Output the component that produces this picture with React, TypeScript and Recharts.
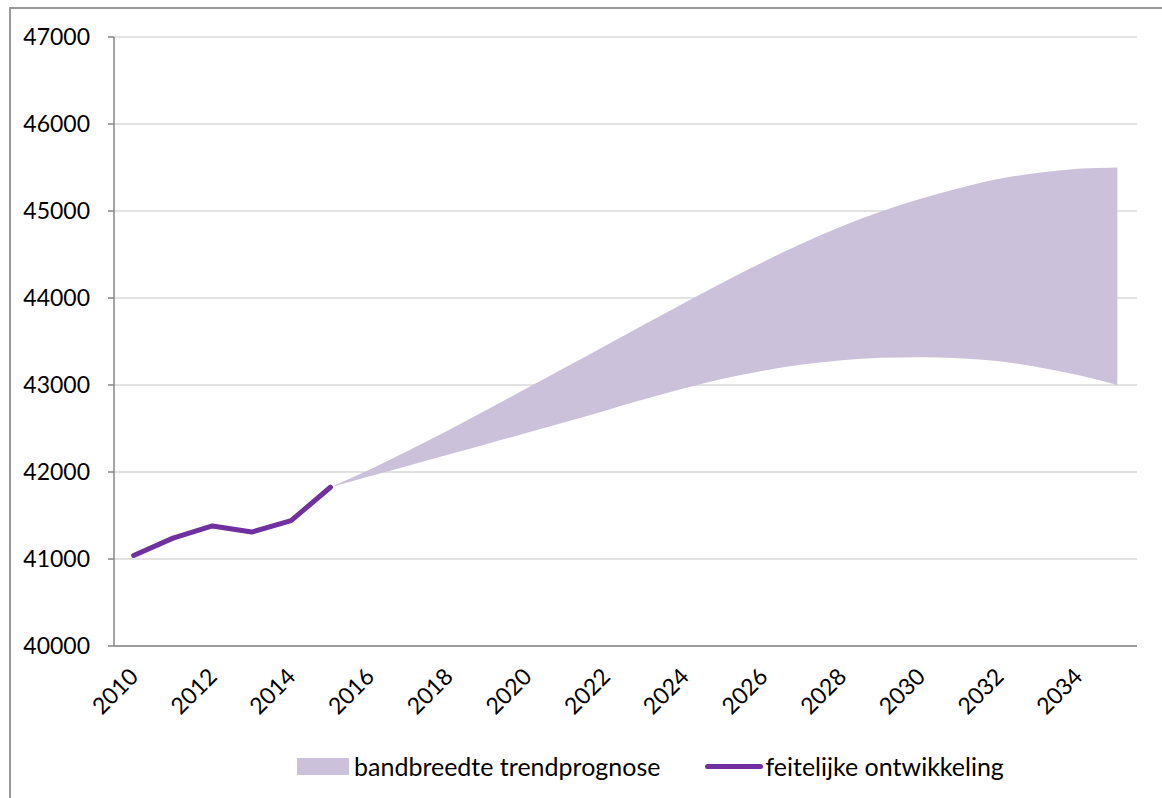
import React from 'react';
import { ComposedChart, Area, Line, XAxis, YAxis, CartesianGrid, Legend } from 'recharts';

const YEARS = [
  2010, 2011, 2012, 2013, 2014, 2015, 2016, 2017, 2018, 2019, 2020, 2021, 2022,
  2023, 2024, 2025, 2026, 2027, 2028, 2029, 2030, 2031, 2032, 2033, 2034, 2035,
];

// feitelijke ontwikkeling, 2010-2015
const ACTUAL = [41040, 41240, 41380, 41310, 41440, 41825];

// bandbreedte trendprognose, 2015-2035
const BAND_LOW = [
  41825, 41950, 42075, 42200, 42325, 42450, 42578, 42708, 42838, 42962, 43075,
  43165, 43235, 43285, 43312, 43320, 43308, 43272, 43205, 43115, 43000,
];
const BAND_HIGH = [
  41825, 42030, 42250, 42480, 42720, 42965, 43210, 43455, 43700, 43945, 44185,
  44415, 44630, 44825, 44995, 45140, 45265, 45370, 45440, 45485, 45500,
];
const BAND_START = 2015;

const Y_TICKS = [40000, 41000, 42000, 43000, 44000, 45000, 46000, 47000];
const X_LABEL_TICKS = [2010, 2012, 2014, 2016, 2018, 2020, 2022, 2024, 2026, 2028, 2030, 2032, 2034];
// category boundaries, Excel-style tick marks between the years
const X_BOUNDARY_TICKS = [...YEARS.map(y => y - 0.5), YEARS[YEARS.length - 1] + 0.5];

const FONT = 'Lato, "Open Sans", sans-serif';
const BAND_COLOR = '#CCC1DA';
const LINE_COLOR = '#7030A0';
const AXIS_COLOR = '#868686';

const data = YEARS.map((year, i) => {
  const b = year - BAND_START;
  return {
    year,
    actual: i < ACTUAL.length ? ACTUAL[i] : null,
    band: b >= 0 && b < BAND_LOW.length ? [BAND_LOW[b], BAND_HIGH[b]] : null,
  };
});

function YearTick({ x, y, payload }: any) {
  const ax = x + 6;
  const ay = y + 31;
  return (
    <text x={ax} y={ay} transform={`rotate(-45, ${ax}, ${ay})`} textAnchor="end"
      fontSize={23} fontFamily={FONT} fill="#000">
      {payload.value}
    </text>
  );
}

function LegendContent({ payload }: any) {
  return (
    <div style={{ display: 'flex', alignItems: 'center', fontFamily: FONT, fontSize: 25, color: '#000', whiteSpace: 'nowrap' }}>
      {(payload || []).map((p: any) => (
        <span key={p.value} style={{ display: 'inline-flex', alignItems: 'center', marginRight: 45 }}>
          {p.type === 'rect' ? (
            <span style={{ display: 'inline-block', width: 52, height: 17, background: BAND_COLOR, marginRight: 5 }} />
          ) : (
            <span style={{ display: 'inline-block', width: 58, height: 5, borderRadius: 3, background: LINE_COLOR, marginRight: 2 }} />
          )}
          {p.value}
        </span>
      ))}
    </div>
  );
}

export default function App() {
  return (
    <div style={{ position: 'absolute', left: 0, top: 0, width: 1162, height: 798, background: '#fff', overflow: 'hidden' }}>
      <div style={{ position: 'absolute', left: 9, top: 7, width: 1200, height: 820, borderLeft: '2px solid #999', borderTop: '2px solid #999' }} />
      <ComposedChart width={1162} height={798} data={data}
        margin={{ top: 37, right: 25, left: 0, bottom: 0 }} style={{ position: 'absolute', left: 0, top: 0 }}>
        <CartesianGrid xAxisId="years" horizontal vertical={false} stroke="#D9D9D9" strokeWidth={1.5} />
        <XAxis xAxisId="bounds" type="number" dataKey="year" domain={[2009.5, 2035.5]} ticks={X_BOUNDARY_TICKS}
          height={1} tick={false} tickSize={7} tickLine={{ stroke: AXIS_COLOR, strokeWidth: 1.5 }}
          axisLine={{ stroke: AXIS_COLOR, strokeWidth: 1.5 }} allowDataOverflow interval={0} />
        <XAxis xAxisId="years" type="number" dataKey="year" domain={[2009.5, 2035.5]} ticks={X_LABEL_TICKS}
          height={151} tick={<YearTick />} tickSize={0} tickMargin={0} tickLine={false} axisLine={false}
          allowDataOverflow interval={0} />
        <YAxis type="number" domain={[40000, 47000]} ticks={Y_TICKS} width={114} tickSize={6} tickMargin={18}
          interval={0} tickLine={{ stroke: AXIS_COLOR, strokeWidth: 1.5 }} axisLine={{ stroke: AXIS_COLOR, strokeWidth: 1.5 }}
          tick={{ fontSize: 23, fontFamily: FONT, fill: '#000' }} />
        <Legend layout="horizontal" verticalAlign="middle" align="center" content={<LegendContent />}
          wrapperStyle={{ top: 751, left: 297, width: 'auto', height: 'auto' }} />
        <Area xAxisId="years" type="monotone" dataKey="band" name="bandbreedte trendprognose" legendType="rect"
          fill={BAND_COLOR} fillOpacity={1} stroke="none" isAnimationActive={false} connectNulls={false} />
        <Line xAxisId="years" type="linear" dataKey="actual" name="feitelijke ontwikkeling" legendType="line"
          stroke={LINE_COLOR} strokeWidth={5} strokeLinecap="round" strokeLinejoin="round" dot={false}
          isAnimationActive={false} />
      </ComposedChart>
    </div>
  );
}
